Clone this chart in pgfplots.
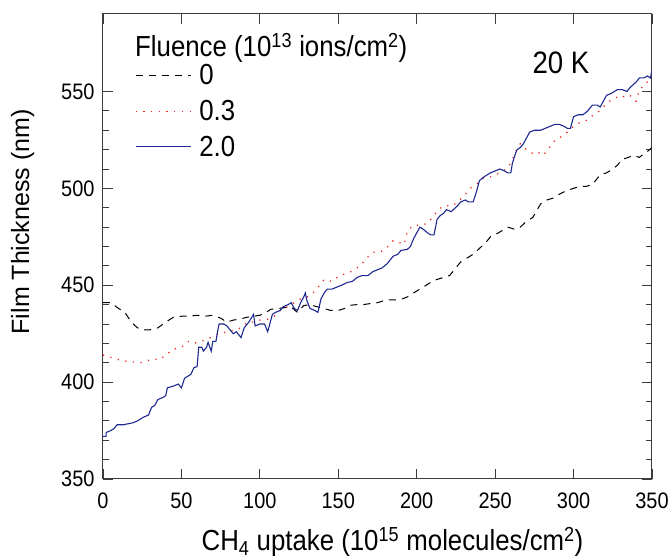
\documentclass[border=0pt]{standalone}
\usepackage{fontspec}
\setmainfont{Liberation Sans}[FakeStretch=0.89]
\newfontfamily\yfont{Liberation Sans}
\usepackage{pgfplots}
\pgfplotsset{compat=1.18}
\definecolor{myblue}{RGB}{30,40,145}
\definecolor{myred}{RGB}{235,35,35}
\definecolor{axgray}{RGB}{60,60,60}
\begin{document}
\begin{tikzpicture}
\begin{axis}[
  scale only axis,
  width=549pt, height=465pt,
  xmin=0, xmax=350, ymin=350, ymax=590,
  xtick={0,50,...,350},
  ytick={350,400,450,500,550},
  minor y tick num=4,
  tick align=inside,
  major tick length=10pt,
  minor tick length=6pt,
  axis line style={axgray, line width=1pt},
  every tick/.style={axgray, line width=0.9pt},
  /pgf/number format/assume math mode=true,
  /pgf/number format/1000 sep={},
  tick label style={font=\fontsize{22.4}{24}\selectfont},
  xticklabel style={yshift=-10pt},
  yticklabel style={xshift=-5pt},
  xlabel={CH\textsubscript{4} uptake (10\textsuperscript{15} molecules/cm\textsuperscript{2})},
  ylabel={Film Thickness (nm)},
  xlabel style={font=\fontsize{29}{31}\selectfont, yshift=-12pt, xshift=15pt},
  ylabel style={at={(ticklabel cs:0.553)}, font=\yfont\fontsize{25}{27}\selectfont, yshift=20pt},
  legend style={draw=none, fill=none, at={(rel axis cs:0.058,0.896)}, anchor=north west,
    font=\fontsize{29}{31}\selectfont, row sep=10pt, inner sep=0pt},
  legend cell align=left,
  legend image code/.code={\draw[#1] (0pt,0pt) -- (55pt,0pt); \path (0pt,0pt) (61pt,0pt);},
]
\addplot[black, line width=1pt, dash pattern=on 7pt off 6pt] coordinates {
(0,441)(5,441)(10,438)(14,436)(18,431)(22,428)(26,427)(30,427)(35,428)(40,431)(45,433.5)(50,434)(55,434)(60,434.5)(65,434)(70,434.5)(75,433)(79,431)(83,432)(87,432.5)(92,433.5)(96,434)(100,434.5)(104,436)(107,437.6)(112,438)(116,438.5)(120,438.7)(124,436)(128,439.5)(132,440)(136,439)(141,438)(145,437)(150,437)(154,438)(158,439.7)(162,440)(166,440)(170,440.5)(175,441)(179,442)(183,442.5)(187,442.5)(191,443)(194,444)(198,446)(202,448)(206,450)(210,452)(213,453)(217,454)(221,455)(225,459)(228,462)(232,464)(236,466)(240,469)(244,472)(247,475)(252,477)(258,480)(262,479)(266,480)(270,483)(274,485)(279,492)(283,494)(287,495)(291,497)(296,499)(300,500)(304,501)(308,501)(312,502)(317,507)(321,508)(325,510)(328,512)(331,515)(335,516)(338,517)(342,516)(345,518)(347,519)(350,521)
};
\addlegendentry{0}
\addplot[myred, line width=1.3pt, dash pattern=on 1.2pt off 6.5pt] coordinates {
(0,414)(4,413)(8,412)(13,411)(18,410.5)(24,410)(28,411)(32,412)(36,411.5)(40,414)(45,417)(50,418)(54,421)(58,420)(62,421)(66,422)(71,424)(75,425)(79,426)(84,427)(88,428)(92,431)(96,431)(100,432)(105,432.5)(109,434)(113,437)(118,439)(122,441)(126,443)(130,444)(134,446)(139,451)(141,453)(146,452)(151,455)(155,456)(158,457)(164,460)(168,464)(172,467)(176,467)(179,468)(183,471)(185,473)(189,472)(192,471)(194,478)(198,481)(203,481)(207,482)(211,486)(214,489)(217,491)(223,491)(226,493)(230,496)(234,500)(238,502)(242,505)(247,506)(253,508)(257,510)(260,513)(263,519)(266,523)(270,520)(274,518)(277,519)(280,517)(283,519)(287,524)(291,526)(296,529)(300,532)(304,534)(308,535)(311,537)(315,539)(318,541)(321,544)(325,546)(330,548)(333,547)(336,548)(338,546)(340,545)(342,551)(345,553)(347,555)(350,557)
};
\addlegendentry{0.3}
\addplot[myblue, line width=1.1pt] coordinates {
(0,372)(2,372)(2,374)(5,375)(7,376)(9,378)(13,378)(16,378.5)(19,379)(22,380)(24,381)(26,382)(29,383)(31,387)(33,388)(35,391)(38,392)(40,393)(41,397)(45,398)(48,399)(50,397)(52,402)(54,403)(56,404)(58,407.5)(60,408)(61,418)(63,418)(64,416)(66,418)(67,420.5)(69,416)(70,421)(72,421)(73,426)(74,430)(77,430)(79,429)(81,427)(83,425)(85,426)(88,423)(90,428)(93,431)(96,435)(97,429)(100,430)(103,430)(105,426)(106,429)(108,435)(110,436)(113,437)(115,439)(118,440)(120,441)(122,438)(124,437)(126,441)(128,444)(129,446)(130,442)(132,438)(135,437)(137,436)(139,443)(141,446)(143,448)(146,448)(149,449)(152,450)(156,451.5)(159,452)(162,454)(165,455)(169,455)(172,457)(175,458)(178,459)(181,461)(183,463)(185,465)(188,466)(190,468)(194,468.5)(196,470)(198,474)(200,477)(202,480)(204,479)(207,477)(209,476)(211,476)(213,484)(215,486)(217,487)(219,489)(222,488)(226,491)(228,493)(231,494)(233,493)(236,493)(238,498)(240,504)(243,506)(247,508)(250,509)(253,510)(256,509)(258,508)(260,508)(261,513)(263,518)(264,520)(266,521)(268,523)(270,526)(272,529)(275,530)(279,530)(282,531)(285,532)(288,533)(291,533)(294,532)(296,531)(298,531)(300,537)(303,538)(306,538)(309,540)(312,543)(315,543)(317,542)(319,545)(321,548)(324,549)(328,551)(331,551)(334,550)(336,552)(338,553.5)(340,555)(342,557)(345,557)(347,558)(349,557)(350,561)
};
\addlegendentry{2.0}
\node[anchor=west, font=\fontsize{29}{31}\selectfont, inner sep=0pt] at (axis cs:20.4,572.5) {Fluence (10\textsuperscript{13} ions/cm\textsuperscript{2})};
\node[font=\fontsize{31}{33}\selectfont, inner sep=0pt] at (axis cs:292,565) {20 K};
\coordinate (O) at (rel axis cs:0,0);
\end{axis}
\pgfresetboundingbox
\path[use as bounding box] ([xshift=-103pt,yshift=-80pt]O) rectangle ++(670pt,559pt);
\end{tikzpicture}
\end{document}
